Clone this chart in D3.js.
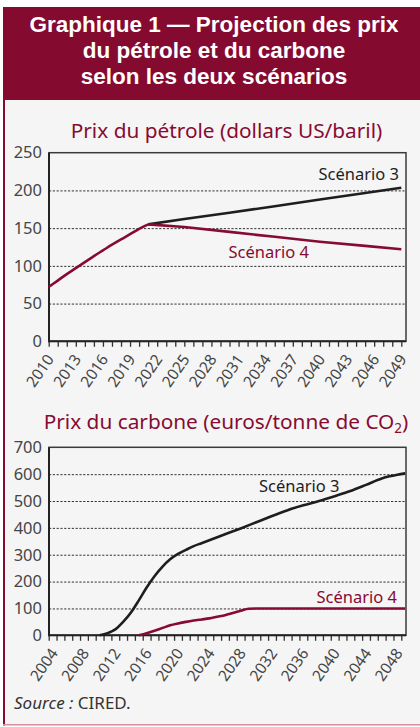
<!DOCTYPE html>
<html><head><meta charset="utf-8">
<script src="https://cdn.jsdelivr.net/npm/d3@7"></script>
<style>
html,body{margin:0;padding:0;background:#fff;}
svg{display:block;font-family:"Noto Sans",sans-serif;}
</style></head><body>
<svg id="c" width="420" height="727"></svg>
<script>
// ---------- DATA ----------
const headerLines = ["Graphique 1 — Projection des prix", "du pétrole et du carbone", "selon les deux scénarios"];
const oilTitle = "Prix du pétrole (dollars US/baril)";
const carbonTitle = "Prix du carbone (euros/tonne de CO";
const sourceLabel = "Source :";
const sourceText = " CIRED.";
const seriesNames = ["Scénario 3", "Scénario 4"];

// Oil (dollars US / baril)
const oilCommonYears = [2010, 2011, 2012, 2013, 2014, 2015, 2016, 2017, 2018, 2019, 2020, 2021];
const oilCommonValues = [72, 80.5, 89, 97, 105, 113, 120.5, 128, 135, 142, 149, 155];
const oilS3Years = [2021, 2025, 2030, 2035, 2040, 2045, 2049];
const oilS3Values = [155, 162, 170.5, 179, 188, 196.5, 203.5];
const oilS4Years = [2021, 2025, 2030, 2035, 2040, 2045, 2049];
const oilS4Values = [155, 151.5, 145, 138.5, 132, 126.5, 122];
const oilYTicks = [0, 50, 100, 150, 200, 250];
const oilXTickYears = [2010,2011,2012,2013,2014,2015,2016,2017,2018,2019,2020,2021,2022,2023,2024,2025,2026,2027,2028,2029,2030,2031,2032,2033,2034,2035,2036,2037,2038,2039,2040,2041,2042,2043,2044,2045,2046,2047,2048,2049];
const oilXLabels = [2010, 2013, 2016, 2019, 2022, 2025, 2028, 2031, 2034, 2037, 2040, 2043, 2046, 2049];

// Carbon (euros / tonne CO2)
const carbonS3Years = [2010, 2011, 2012, 2013, 2014, 2015, 2016, 2017, 2018, 2019, 2020, 2021, 2022, 2023, 2024, 2026, 2028, 2030, 2032, 2034, 2036, 2038, 2040, 2042, 2044, 2046, 2047, 2048, 2049];
const carbonS3Values = [0, 8, 22, 50, 85, 130, 178, 220, 255, 283, 303, 318, 332, 343, 354, 376, 398, 421, 444, 466, 484, 500, 518, 537, 560, 584, 592, 598, 603];
const carbonS4Years = [2015, 2016, 2017, 2018, 2019, 2020, 2021, 2022, 2023, 2024, 2025, 2026, 2027, 2028, 2029, 2030, 2049];
const carbonS4Values = [0, 8, 17, 27, 37, 44, 50, 55, 59, 63, 69, 75, 83, 91, 99, 100, 100];
const carbonYTicks = [0, 100, 200, 300, 400, 500, 600, 700];
const carbonXTickYears = [2004,2005,2006,2007,2008,2009,2010,2011,2012,2013,2014,2015,2016,2017,2018,2019,2020,2021,2022,2023,2024,2025,2026,2027,2028,2029,2030,2031,2032,2033,2034,2035,2036,2037,2038,2039,2040,2041,2042,2043,2044,2045,2046,2047,2048,2049];
const carbonXLabels = [2004, 2008, 2012, 2016, 2020, 2024, 2028, 2032, 2036, 2040, 2044, 2048];

// ---------- STYLE ----------
const RED = "#870b31";
const DARK = "#1e1e1e";
const GRAY_TXT = "#454545";
const BG = "#f5f5f5";

const svg = d3.select("#c");

// frame
svg.append("rect").attr("x", 3).attr("y", 100).attr("width", 417).attr("height", 625).attr("fill", BG);
svg.append("rect").attr("x", 3).attr("y", 7).attr("width", 417).attr("height", 93).attr("fill", "#850a2f");
svg.append("line").attr("x1", 4).attr("x2", 4).attr("y1", 100).attr("y2", 725.5)
  .attr("stroke", RED).attr("stroke-width", 2);
svg.append("line").attr("x1", 3).attr("x2", 420).attr("y1", 724.8).attr("y2", 724.8)
  .attr("stroke", "#d58ea2").attr("stroke-width", 1.5);

headerLines.forEach((t, i) => {
  svg.append("text").attr("text-anchor", "middle").attr("fill", "#fff")
    .attr("font-family", "'Liberation Sans', Arial, sans-serif")
    .attr("font-weight", "bold").attr("font-size", 22.5)
    .attr("x", 214).attr("y", 32 + i * 26).text(t);
});

function drawChart(o) {
  const g = svg.append("g");
  const x = o.x, y = o.y;
  const L = 49, R = 406, T = y.range()[1], B = y.range()[0];

  // grid
  g.append("g").attr("transform", `translate(${L},0)`)
    .call(d3.axisLeft(y).tickValues(o.yTicks.filter(v => v !== 0 && v !== o.yTicks[o.yTicks.length - 1]))
      .tickSize(-(R - L)).tickFormat(""))
    .call(s => s.select(".domain").remove())
    .call(s => s.selectAll("line").attr("stroke", "#333").attr("stroke-width", 1).attr("stroke-dasharray", "2.2,1.6"));

  // y labels
  g.append("g").attr("transform", `translate(${L},0)`)
    .call(d3.axisLeft(y).tickValues(o.yTicks).tickSize(0).tickPadding(7))
    .call(s => s.select(".domain").remove())
    .call(s => s.selectAll("text").attr("fill", GRAY_TXT).attr("font-size", 16.5)
      .attr("font-family", "Noto Sans, sans-serif"));

  // x ticks
  g.append("g").attr("transform", `translate(0,${B})`)
    .call(d3.axisBottom(x).tickValues(o.xTicks).tickSize(5.5).tickFormat(""))
    .call(s => s.select(".domain").remove())
    .call(s => s.selectAll("line").attr("stroke", "#333").attr("stroke-width", 1.3));

  // x labels
  g.append("g").selectAll("text").data(o.xLabels).join("text")
    .attr("transform", d => `translate(${o.labelX(d) + 6},${B + 18}) rotate(-55)`)
    .attr("text-anchor", "end").attr("fill", GRAY_TXT).attr("font-size", 15.5)
    .text(d => d);

  // box
  g.append("rect").attr("x", L).attr("y", T).attr("width", R - L).attr("height", B - T)
    .attr("fill", "none").attr("stroke", "#3a3a3a").attr("stroke-width", 1.5);
  g.append("path").attr("d", `M${L},${T}V${B}H${R}`).attr("fill", "none")
    .attr("stroke", "#222").attr("stroke-width", 2);

  // series
  o.series.forEach(s => {
    const line = d3.line().x(d => o.px(d[0])).y(d => y(d[1])).curve(s.curve || d3.curveLinear);
    g.append("path").datum(d3.zip(s.years, s.values)).attr("d", line)
      .attr("fill", "none").attr("stroke", s.color).attr("stroke-width", 2.6)
      .attr("stroke-linejoin", "round").attr("stroke-linecap", "butt");
  });

  // series labels
  o.labels.forEach(l => {
    g.append("text").attr("x", l.x).attr("y", l.y).attr("text-anchor", "end")
      .attr("fill", l.color).attr("font-size", 16.5).text(l.text);
  });
}

// ---- oil chart ----
const xOil = d3.scaleLinear().domain([2010, 2049]).range([48.7, 401.3]);
const yOil = d3.scaleLinear().domain([0, 250]).range([341.3, 152.7]);
svg.append("text").attr("x", 226.5).attr("y", 137.5).attr("text-anchor", "middle")
  .attr("fill", RED).attr("font-size", 20.8).text(oilTitle);
drawChart({
  x: xOil, y: yOil, yTicks: oilYTicks, xTicks: oilXTickYears, xLabels: oilXLabels,
  labelX: d => xOil(d), px: d => xOil(d),
  series: [
    { years: oilS3Years, values: oilS3Values, color: DARK },
    { years: oilS4Years, values: oilS4Values, color: RED },
    { years: oilCommonYears, values: oilCommonValues, color: RED, curve: d3.curveMonotoneX }
  ],
  labels: [
    { text: seriesNames[0], x: 399, y: 180, color: DARK },
    { text: seriesNames[1], x: 309, y: 257.5, color: RED }
  ]
});

// ---- carbon chart ----
const xCar = d3.scaleLinear().domain([2004, 2049]).range([48.7, 401.3]);
const yCar = d3.scaleLinear().domain([0, 700]).range([635.3, 447.3]);
const ct = svg.append("text").attr("x", 226).attr("y", 428.5).attr("text-anchor", "middle")
  .attr("fill", RED).attr("font-size", 20.8);
ct.append("tspan").text(carbonTitle);
ct.append("tspan").attr("font-size", 13.5).attr("dy", 4).text("2");
ct.append("tspan").attr("dy", -4).text(")");
drawChart({
  x: xCar, y: yCar, yTicks: carbonYTicks, xTicks: carbonXTickYears, xLabels: carbonXLabels,
  labelX: d => xCar(d + 0.5), px: d => xCar(d + 0.5),
  series: [
    { years: carbonS3Years, values: carbonS3Values, color: DARK, curve: d3.curveMonotoneX },
    { years: carbonS4Years, values: carbonS4Values, color: RED, curve: d3.curveMonotoneX }
  ],
  labels: [
    { text: seriesNames[0], x: 339.5, y: 492, color: DARK },
    { text: seriesNames[1], x: 397, y: 602.5, color: RED }
  ]
});

// source
const src = svg.append("text").attr("x", 14).attr("y", 708.5).attr("fill", "#333").attr("font-size", 17);
src.append("tspan").attr("font-style", "italic").text(sourceLabel);
src.append("tspan").text(sourceText);
</script>
</body></html>
